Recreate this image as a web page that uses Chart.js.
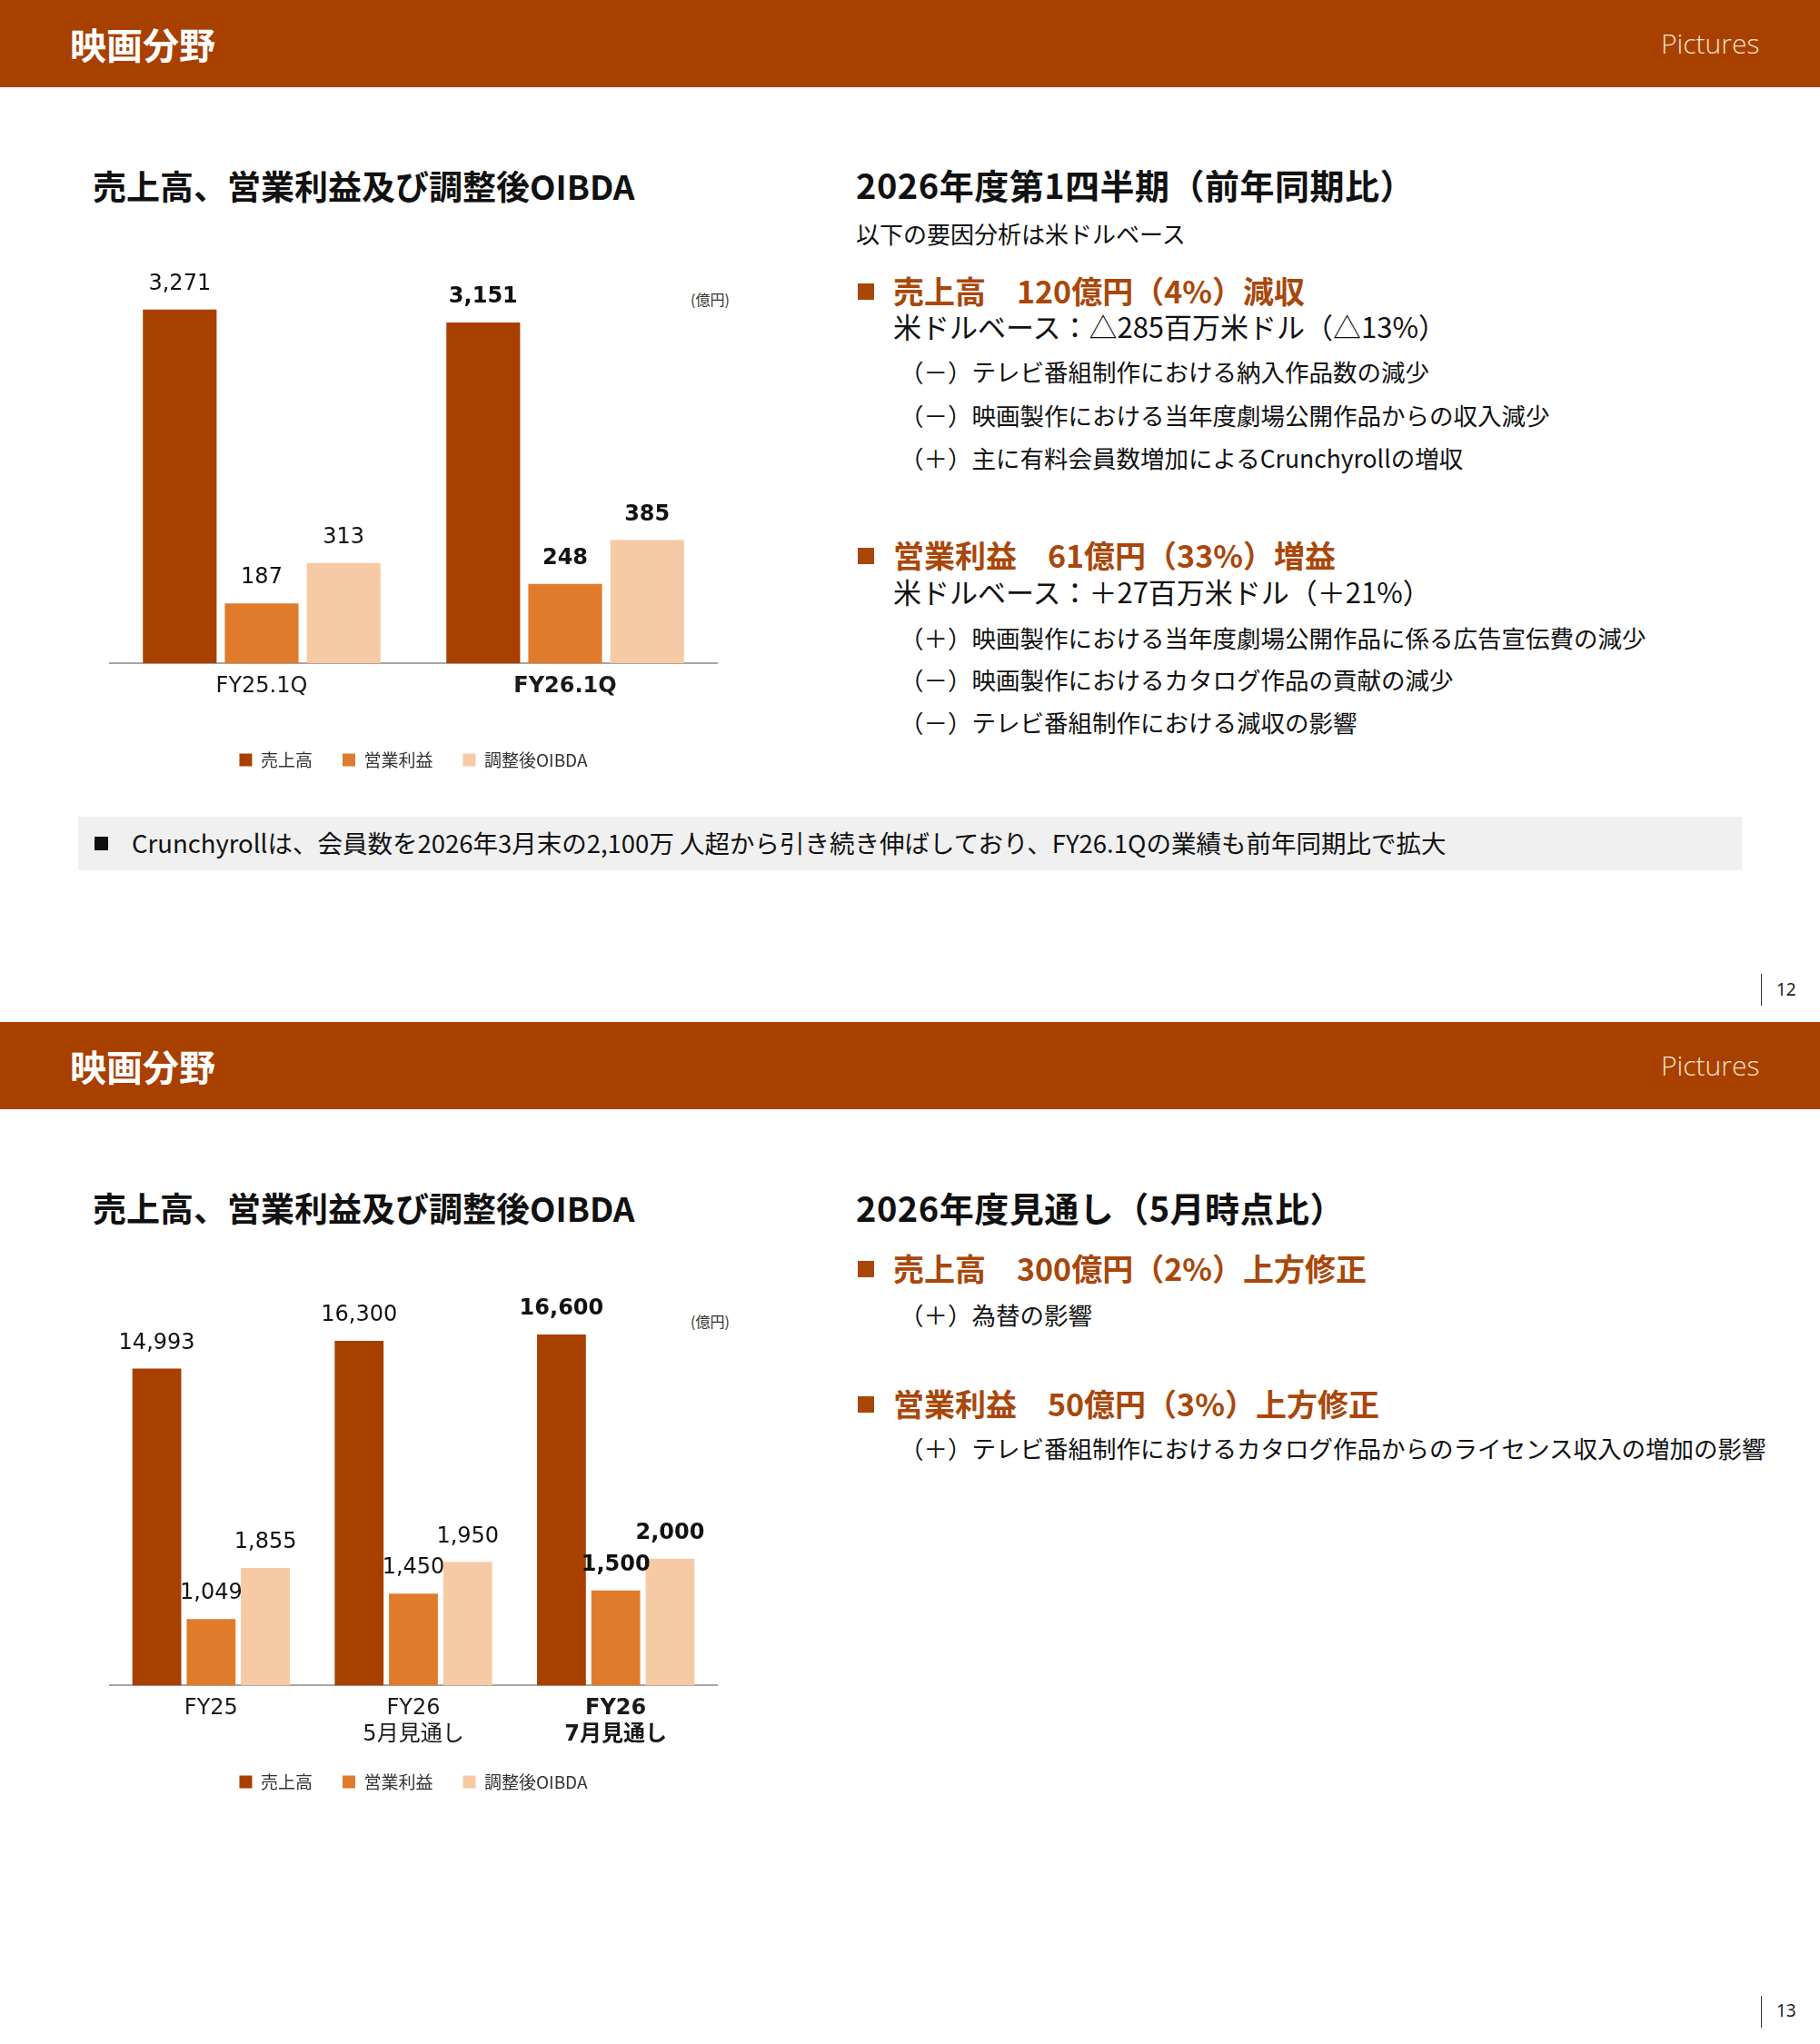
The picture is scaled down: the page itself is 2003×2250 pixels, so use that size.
<!DOCTYPE html>
<html lang="ja">
<head>
<meta charset="utf-8">
<script src="https://cdn.jsdelivr.net/npm/chart.js@4.4.1/dist/chart.umd.min.js"></script>
<style>
  html, body { margin: 0; padding: 0; background: #fff; }
  #page { position: relative; width: 2003px; height: 2250px; overflow: hidden; font-family: "Noto Sans CJK JP", sans-serif; color: #111; }
  .bar { position: absolute; left: 0; width: 2003px; height: 96px; background: #A84000; }
  .t { position: absolute; white-space: nowrap; line-height: 1; }
  .hd { color: #fff; font-weight: 700; font-size: 40px; left: 77px; }
  .pic { color: #F7E4CC; font-family: "Open Sans", sans-serif; font-weight: 300; font-size: 30px; left: 1828px; }
  .h2l { font-weight: 700; font-size: 37px; left: 102px; }
  .h2r { font-weight: 700; font-size: 38px; letter-spacing: 0.5px; left: 942px; }
  .note { font-size: 26px; }
  .b1 { font-weight: 700; font-size: 34px; color: #A9470B; left: 983px; }
  .sq { position: absolute; width: 18px; height: 18px; background: #A9470B; left: 944px; }
  .usd { font-size: 31px; left: 983px; }
  .sub { font-size: 26.5px; left: 990px; }
  .unit { font-size: 16px; color: #333; }
  .pg { font-family: "Noto Sans", sans-serif; font-size: 19px; color: #222; left: 1955px; }
  .pgl { position: absolute; left: 1938px; width: 1px; height: 35px; background: #333; }
  canvas { position: absolute; left: 0; }
</style>
</head>
<body>
<div id="page">
  <!-- slide 12 -->
  <div class="bar" style="top:0"></div>
  <div class="t hd" style="top:28px">映画分野</div>
  <div class="t pic" style="top:33px">Pictures</div>

  <div class="t h2l" style="top:186px">売上高、営業利益及び調整後OIBDA</div>
  <div class="t unit" style="left:760px;top:321px">(億円)</div>
  <canvas id="q1Chart" width="910" height="650" style="top:230px"></canvas>

  <div class="t h2r" style="top:184px">2026年度第1四半期（前年同期比）</div>
  <div class="t note" style="left:942px;top:244px">以下の要因分析は米ドルベース</div>

  <div class="sq" style="top:312px"></div>
  <div class="t b1" style="top:303px">売上高　120億円（4%）減収</div>
  <div class="t usd" style="top:343px">米ドルベース：△285百万米ドル（△13%）</div>
  <div class="t sub" style="top:396px">（－）テレビ番組制作における納入作品数の減少</div>
  <div class="t sub" style="top:444px">（－）映画製作における当年度劇場公開作品からの収入減少</div>
  <div class="t sub" style="top:491px">（＋）主に有料会員数増加によるCrunchyrollの増収</div>

  <div class="sq" style="top:603px"></div>
  <div class="t b1" style="top:594px">営業利益　61億円（33%）増益</div>
  <div class="t usd" style="top:635px">米ドルベース：＋27百万米ドル（＋21%）</div>
  <div class="t sub" style="top:689px">（＋）映画製作における当年度劇場公開作品に係る広告宣伝費の減少</div>
  <div class="t sub" style="top:735px">（－）映画製作におけるカタログ作品の貢献の減少</div>
  <div class="t sub" style="top:782px">（－）テレビ番組制作における減収の影響</div>

  <div style="position:absolute;left:86px;top:899px;width:1831px;height:59px;background:#F0F0F0"></div>
  <div style="position:absolute;left:104px;top:921px;width:15px;height:15px;background:#111"></div>
  <div class="t" style="left:145px;top:914px;font-size:27.5px">Crunchyrollは、会員数を2026年3月末の2,100万 人超から引き続き伸ばしており、FY26.1Qの業績も前年同期比で拡大</div>

  <div class="pgl" style="top:1072px"></div>
  <div class="t pg" style="top:1080px">12</div>

  <!-- slide 13 -->
  <div class="bar" style="top:1125px"></div>
  <div class="t hd" style="top:1153px">映画分野</div>
  <div class="t pic" style="top:1158px">Pictures</div>

  <div class="t h2l" style="top:1311px">売上高、営業利益及び調整後OIBDA</div>
  <div class="t unit" style="left:760px;top:1446px">(億円)</div>
  <canvas id="fyChart" width="910" height="640" style="top:1360px"></canvas>

  <div class="t h2r" style="top:1310px">2026年度見通し（5月時点比）</div>
  <div class="sq" style="top:1388px"></div>
  <div class="t b1" style="top:1379px">売上高　300億円（2%）上方修正</div>
  <div class="t sub" style="top:1434px">（＋）為替の影響</div>
  <div class="sq" style="top:1537px"></div>
  <div class="t b1" style="top:1528px">営業利益　50億円（3%）上方修正</div>
  <div class="t sub" style="top:1581px">（＋）テレビ番組制作におけるカタログ作品からのライセンス収入の増加の影響</div>

  <div class="pgl" style="top:2197px"></div>
  <div class="t pg" style="top:2204px">13</div>
</div>

<script>
// series names
const seriesNames = ['売上高', '営業利益', '調整後OIBDA'];
const seriesColors = ['#A84000', '#E07B2B', '#F6CAA4'];

// FY25.1Q vs FY26.1Q (億円)
const q1Categories = ['FY25.1Q', 'FY26.1Q'];
const q1Sales = [3271, 3151];
const q1OpIncome = [187, 248];
const q1Oibda = [313, 385];

// full-year results and forecasts (億円)
const fyCategories = [['FY25'], ['FY26', '5月見通し'], ['FY26', '7月見通し']];
const fySales = [14993, 16300, 16600];
const fyOpIncome = [1049, 1450, 1500];
const fyOibda = [1855, 1950, 2000];

const numFont = '"DejaVu Sans", "Noto Sans CJK JP", sans-serif';

// value labels above each bar, last period in bold
const valueLabels = {
  id: 'valueLabels',
  afterDatasetsDraw(chart) {
    const ctx = chart.ctx;
    ctx.save();
    ctx.textAlign = 'center';
    ctx.textBaseline = 'middle';
    ctx.fillStyle = '#111';
    chart.data.datasets.forEach((ds, i) => {
      const meta = chart.getDatasetMeta(i);
      meta.data.forEach((bar, j) => {
        const last = j === ds.data.length - 1;
        ctx.font = (last ? 'bold ' : '') + '24px ' + numFont;
        ctx.fillText(ds.data[j].toLocaleString('en-US'), bar.x, bar.y - 28);
      });
    });
    ctx.restore();
  }
};

function buildChart(id, labels, sales, op, oibda, yMax, y1Max, pad, extra, barPct, catPct) {
  const ctx = document.getElementById(id).getContext('2d');
  return new Chart(ctx, {
    type: 'bar',
    data: {
      labels: labels,
      datasets: [
        { label: seriesNames[0], data: sales, backgroundColor: seriesColors[0], yAxisID: 'y' },
        { label: seriesNames[1], data: op, backgroundColor: seriesColors[1], yAxisID: 'y1' },
        { label: seriesNames[2], data: oibda, backgroundColor: seriesColors[2], yAxisID: 'y1' }
      ]
    },
    options: {
      responsive: false,
      animation: false,
      devicePixelRatio: 1,
      barPercentage: barPct,
      categoryPercentage: catPct,
      layout: { padding: pad },
      scales: {
        x: {
          grid: { display: false, drawTicks: false },
          border: { display: true, color: '#A6A6A6', width: 2 },
          ticks: {
            padding: 11,
            color: '#1a1a1a',
            font: (c) => ({
              family: numFont,
              size: 24,
              weight: c.index === labels.length - 1 ? 'bold' : 'normal'
            })
          },
          afterFit: (scale) => { scale.height += extra; }
        },
        y: { display: false, min: 0, max: yMax },
        y1: { display: false, min: 0, max: y1Max }
      },
      plugins: {
        tooltip: { enabled: false },
        legend: {
          position: 'bottom',
          labels: {
            boxWidth: 14,
            boxHeight: 14,
            padding: 33,
            color: '#333',
            font: { family: '"Noto Sans CJK JP", sans-serif', size: 19 }
          }
        }
      }
    },
    plugins: [valueLabels]
  });
}

buildChart('q1Chart', q1Categories, q1Sales, q1OpIncome, q1Oibda, 4000, 1350,
  { left: 121, right: 121, top: 24, bottom: 24 }, 13, 0.9, 0.81);
buildChart('fyChart', fyCategories, fySales, fyOpIncome, fyOibda, 20000, 6667,
  { left: 121, right: 121, top: 30, bottom: 19 }, -16, 0.9, 0.805);
</script>
</body>
</html>
